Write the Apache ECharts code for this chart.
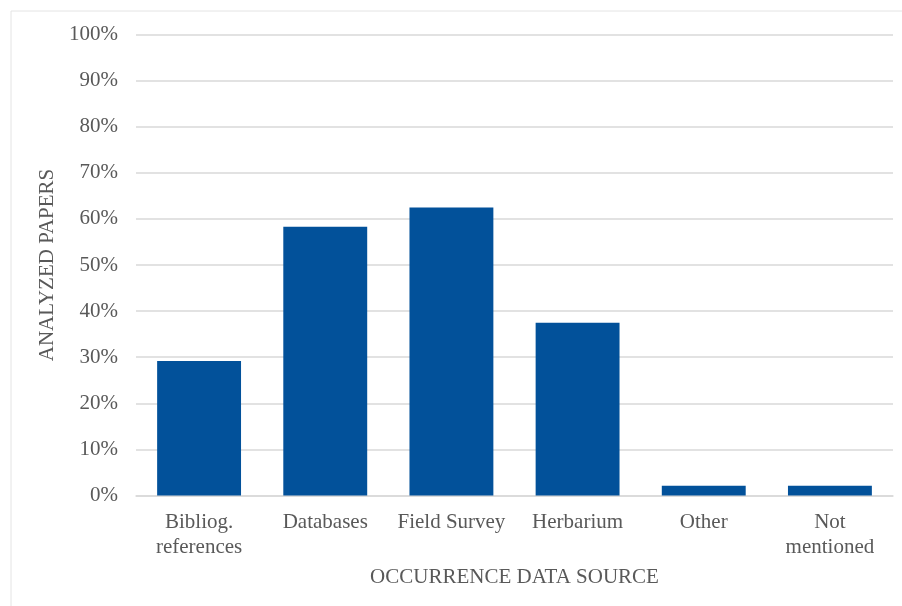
<!DOCTYPE html>
<html>
<head>
<meta charset="utf-8">
<title>Occurrence data source</title>
<script src="https://cdn.jsdelivr.net/npm/echarts@6/dist/echarts.min.js"></script>
<style>
  html, body { margin: 0; padding: 0; background: #fff; }
  #chart { width: 902px; height: 606px; }
</style>
</head>
<body>
<div id="chart"></div>
<script>
// Share of analyzed papers using each occurrence data source (%)
const categories = ['Bibliog.\nreferences', 'Databases', 'Field Survey', 'Herbarium', 'Other', 'Not\nmentioned'];
const shares = [29.2, 58.3, 62.5, 37.5, 2.1, 2.1];
const yTicks = [0, 10, 20, 30, 40, 50, 60, 70, 80, 90, 100];

const textColor = '#595959';
const font = '"Liberation Serif", "Times New Roman", serif';
const fontSize = 21;

const chart = echarts.init(document.getElementById('chart'), null, { renderer: 'canvas' });

chart.setOption({
  backgroundColor: '#ffffff',
  animation: false,
  textStyle: { fontFamily: font, color: textColor },
  graphic: [{
    type: 'rect',
    shape: { x: 11, y: 11, width: 1000, height: 1000 },
    style: { fill: 'none', stroke: '#e4e4e4', lineWidth: 1 },
    silent: true,
    z: -1
  }],
  grid: { left: 136, right: 9, top: 34.5, bottom: 110.5 },
  xAxis: {
    type: 'category',
    data: categories,
    name: 'OCCURRENCE DATA SOURCE',
    nameLocation: 'middle',
    nameGap: 71,
    nameTextStyle: { fontFamily: font, fontSize: fontSize, color: textColor },
    axisLine: { show: true, lineStyle: { color: '#d9d9d9', width: 1.5 } },
    axisTick: { show: false },
    axisLabel: {
      fontFamily: font, fontSize: fontSize, color: textColor,
      lineHeight: 25, margin: 14, interval: 0
    }
  },
  yAxis: {
    type: 'value',
    min: yTicks[0],
    max: yTicks[yTicks.length - 1],
    interval: yTicks[1] - yTicks[0],
    name: 'ANALYZED PAPERS',
    nameLocation: 'middle',
    nameGap: 73,
    nameTextStyle: { fontFamily: font, fontSize: fontSize, color: textColor },
    axisLine: { show: false },
    axisTick: { show: false },
    axisLabel: {
      fontFamily: font, fontSize: fontSize, color: textColor,
      margin: 18,
      formatter: v => v + '%'
    },
    splitLine: { lineStyle: { color: '#d9d9d9', width: 1.5 } }
  },
  series: [{
    type: 'bar',
    data: shares,
    barCategoryGap: '33.5%',
    itemStyle: { color: '#02519a' }
  }]
});
</script>
</body>
</html>
